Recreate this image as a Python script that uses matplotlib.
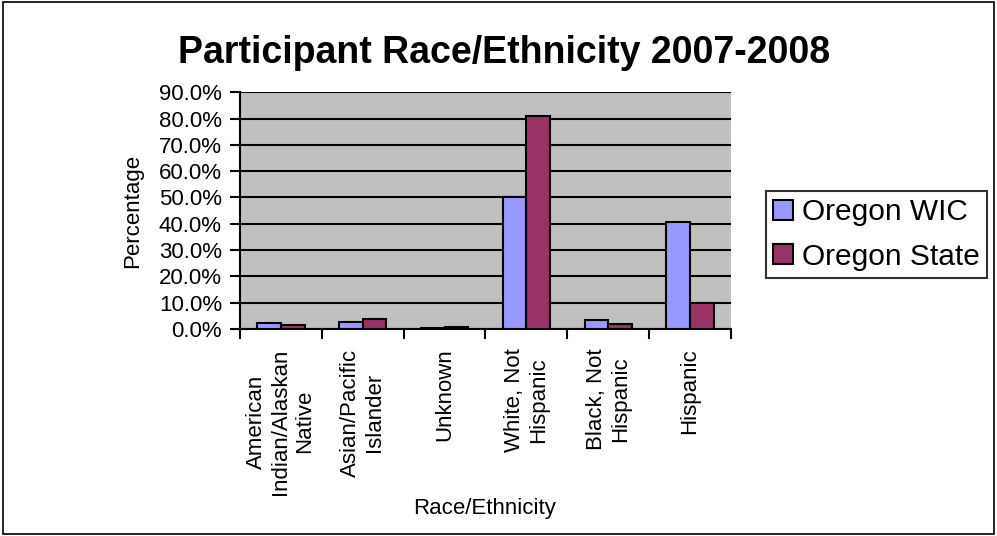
import numpy as np
import matplotlib
matplotlib.use('Agg')
import matplotlib.pyplot as plt
from matplotlib.patches import Rectangle

plt.rcParams['font.family'] = ['Liberation Sans', 'DejaVu Sans']

categories = ['American\nIndian/Alaskan\nNative', 'Asian/Pacific\nIslander', 'Unknown',
              'White, Not\nHispanic', 'Black, Not\nHispanic', 'Hispanic']
wic = [2.5, 2.8, 0.3, 50.0, 3.4, 40.8]
state = [1.4, 3.9, 0.8, 80.8, 2.0, 10.0]
yticks = np.arange(0, 91, 10)

fig = plt.figure(figsize=(9.97, 5.36), dpi=100)
ax = fig.add_axes([0.2407, 0.386, 0.4925, 0.442])
ax.set_facecolor('#C0C0C0')

x = np.arange(len(categories))
w = 0.29
ax.bar(x - w/2, wic, w, color='#9999FF', edgecolor='black', linewidth=1.5, label='Oregon WIC', zorder=3)
ax.bar(x + w/2, state, w, color='#993366', edgecolor='black', linewidth=1.5, label='Oregon State', zorder=3)

ax.set_xlim(-0.5, len(categories) - 0.5)
ax.set_ylim(0, 90)
ax.set_yticks(yticks)
ax.set_yticklabels(['%.1f%%' % v for v in yticks], fontsize=16)
ax.yaxis.grid(True, color='black', linewidth=1.5, zorder=1)
ax.set_axisbelow(True)

ax.set_xticks(np.arange(len(categories) + 1) - 0.5)
ax.set_xticklabels([])
ax.set_xticks(x, minor=True)
ax.set_xticklabels(categories, minor=True, rotation=90, fontsize=16, multialignment='center',
                   va='top', linespacing=1.2)
ax.tick_params(axis='x', which='minor', length=0, pad=14)
ax.tick_params(axis='x', which='major', length=7, width=1.5, direction='out')
ax.tick_params(axis='y', length=7, width=1.5, direction='out', pad=6)

for s in ['top', 'right']:
    ax.spines[s].set_visible(False)
for s in ['left', 'bottom']:
    ax.spines[s].set_linewidth(1.5)

fig.text(0.1334, 0.606, 'Percentage', fontsize=16, rotation=90, ha='center', va='center')
fig.text(0.4865, 0.052, 'Race/Ethnicity', fontsize=16, ha='center', va='center')
fig.text(0.5055, 0.901, 'Participant Race/Ethnicity 2007-2008', fontsize=27, fontweight='bold',
         ha='center', va='center')

leg = ax.legend(loc='center left', bbox_to_anchor=(1.071, 0.40), fontsize=21.5, frameon=True,
                fancybox=False, edgecolor='black', handlelength=0.65, handleheight=0.65,
                handletextpad=0.3, borderpad=0.25, labelspacing=0.55, borderaxespad=0)
leg.get_frame().set_linewidth(1.5)
for h in leg.legend_handles:
    h.set_linewidth(1.5)

fig.patches.append(Rectangle((0.003, 0.004), 0.994, 0.992, transform=fig.transFigure,
                             fill=False, edgecolor='black', linewidth=1.2))

plt.savefig('out.png', dpi=100)
